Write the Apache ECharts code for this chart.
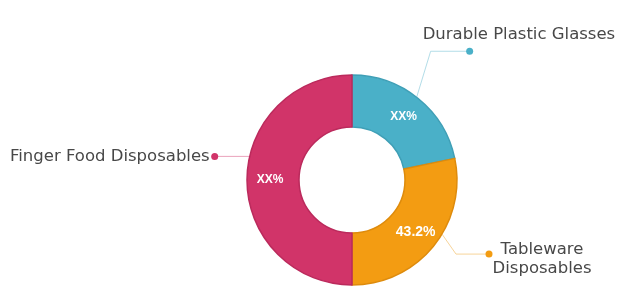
<!DOCTYPE html>
<html><head><meta charset="utf-8">
<script src="https://cdn.jsdelivr.net/npm/echarts@6/dist/echarts.min.js"></script>
<style>html,body{margin:0;padding:0;background:#fff}#c{width:621px;height:295px}</style>
</head><body><div id="c"></div>
<script>
const categories = ['Durable Plastic Glasses', 'Tableware Disposables', 'Finger Food Disposables'];
const values = [21.7, 28.3, 50];
const insideLabels = ['XX%', '43.2%', 'XX%'];
const outerLabels = ['Durable Plastic Glasses', 'Tableware\nDisposables', 'Finger Food Disposables'];

const colors = ['#4ab0c8', '#f39c12', '#d13469'];
const borderColors = ['#3f9fb6', '#de8b0c', '#bb2a5c'];
const lineColors = ['#b3dde8', '#f7d49a', '#eaa2bb'];
const insideSizes = [12, 14, 12];

const CENTER = [352, 180], RADIUS = [53, 105];
// label-line geometry: anchor angle on outer edge (deg clockwise from top), bend offset, horizontal run
const lineGeo = [
  { angle: 38, bend: [14, -46], run: 39 },
  { angle: 121, bend: [14, 20], run: 33 },
  { angle: 283, bend: [0, 0], run: -35 }
];
const textGeo = [
  { dx: -47, dy: -17, align: 'left' },
  { dx: 53, dy: 5, align: 'center' },
  { dx: -5, dy: 0, align: 'right' }
];
function linePts(i) {
  const g = lineGeo[i], a = g.angle * Math.PI / 180;
  const s = [CENTER[0] + RADIUS[1] * Math.sin(a), CENTER[1] - RADIUS[1] * Math.cos(a)];
  const b = [s[0] + g.bend[0], s[1] + g.bend[1]];
  const e = [b[0] + g.run, b[1]];
  return [s, b, e];
}

const font = "'Liberation Sans', Arial, sans-serif";
const outerFont = "'DejaVu Sans', sans-serif";
const chart = echarts.init(document.getElementById('c'), null, { renderer: 'canvas' });

const base = {
  type: 'pie', center: CENTER, radius: RADIUS, startAngle: 90, clockwise: true,
  avoidLabelOverlap: false, animation: false, emphasis: { disabled: true }
};

chart.setOption({
  backgroundColor: '#fff',
  series: [
    Object.assign({}, base, {
      name: 'main',
      data: categories.map((c, i) => ({
        name: c, value: values[i],
        itemStyle: { color: colors[i], borderColor: borderColors[i], borderWidth: 1.5 },
        label: { fontSize: insideSizes[i] }
      })),
      label: {
        show: true, position: 'inside', color: '#fff', fontWeight: 'bold', fontFamily: font,
        formatter: p => insideLabels[p.dataIndex]
      },
      labelLine: { show: false }
    }),
    Object.assign({}, base, {
      name: 'dots', silent: true,
      data: categories.map((c, i) => ({
        name: c, value: values[i],
        itemStyle: { color: 'rgba(0,0,0,0)', borderWidth: 0 },
        label: { rich: { d: { width: 7, height: 7, borderRadius: 3.5, backgroundColor: colors[i] } } },
        labelLine: { lineStyle: { color: lineColors[i], width: 1 } }
      })),
      label: { show: true, position: 'outside', formatter: '{d|}' },
      labelLine: { show: true, length: 10, length2: 10, smooth: false },
      labelLayout: p => {
        const pts = linePts(p.dataIndex);
        return { x: pts[2][0], y: pts[2][1], align: 'center', verticalAlign: 'middle', labelLinePoints: pts };
      }
    }),
    Object.assign({}, base, {
      name: 'texts', silent: true,
      data: categories.map((c, i) => ({
        name: c, value: values[i],
        itemStyle: { color: 'rgba(0,0,0,0)', borderWidth: 0 }
      })),
      label: {
        show: true, position: 'outside', color: '#484848', fontSize: 16.5, fontFamily: outerFont,
        lineHeight: 19, formatter: p => outerLabels[p.dataIndex]
      },
      labelLine: { show: false },
      labelLayout: p => {
        const pts = linePts(p.dataIndex), t = textGeo[p.dataIndex];
        return { x: pts[2][0] + t.dx, y: pts[2][1] + t.dy, align: t.align, verticalAlign: 'middle' };
      }
    })
  ]
});
</script></body></html>
